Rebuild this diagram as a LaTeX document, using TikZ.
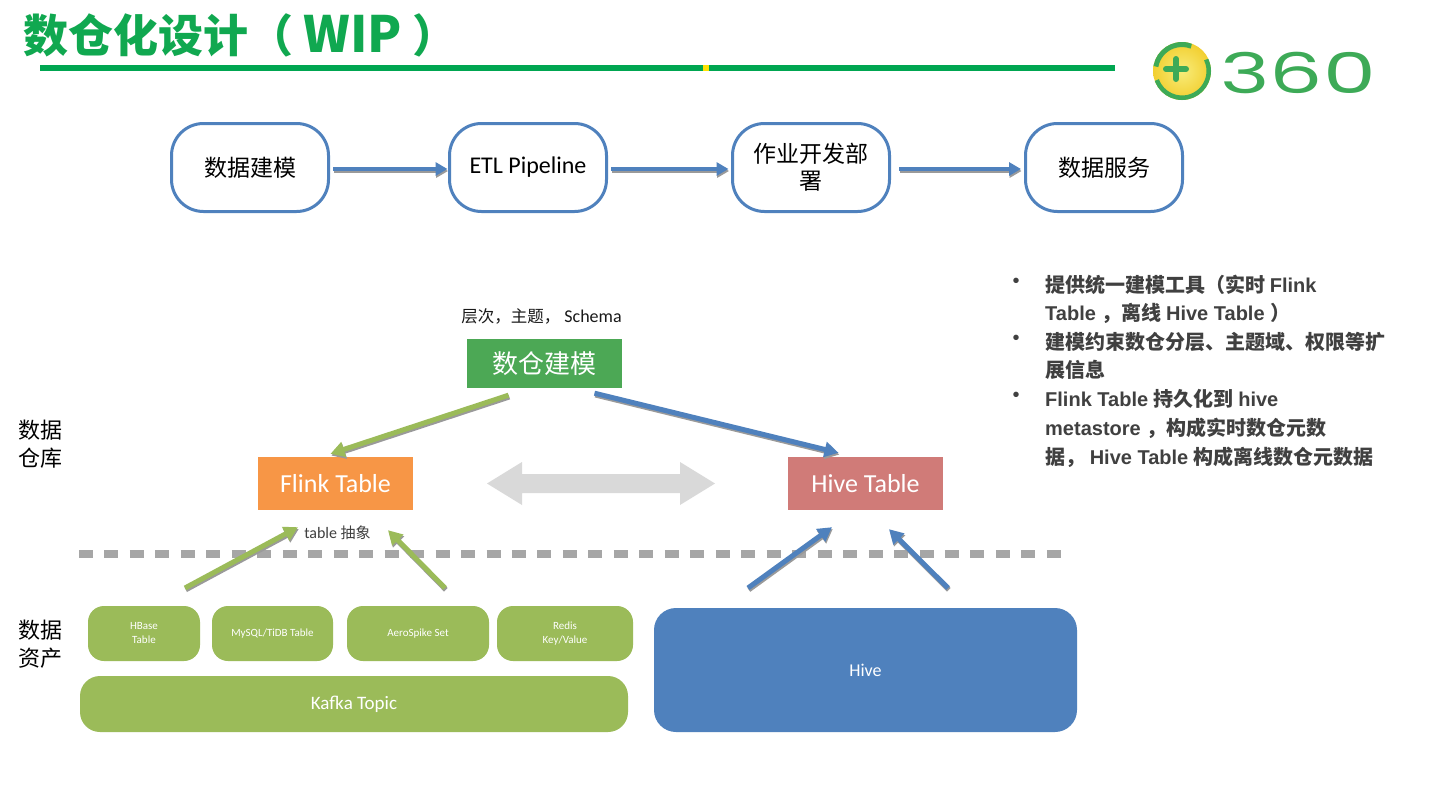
\documentclass[tikz,border=0pt]{standalone}
\usepackage{fontspec}
\setmainfont{Carlito}
\newfontfamily\cjk{Noto Sans CJK SC}
\newfontfamily\lsans{Liberation Sans}
\newfontfamily\popp{Poppins}
\usetikzlibrary{arrows.meta,calc}
\definecolor{boxblue}{HTML}{4F81BD}
\definecolor{ttlgreen}{HTML}{10A850}
\definecolor{linegreen}{HTML}{00A651}
\definecolor{modgreen}{HTML}{4CA855}
\definecolor{flinkor}{HTML}{F79646}
\definecolor{hivered}{HTML}{D07B78}
\definecolor{assetgreen}{HTML}{9BBB59}
\definecolor{shadowgray}{HTML}{9A9A9A}
\definecolor{dashgray}{HTML}{A6A6A6}
\definecolor{dblgray}{HTML}{D9D9D9}
\definecolor{txtgray}{HTML}{404040}
\definecolor{logogreen}{HTML}{3DAA57}
\definecolor{logoyellow}{HTML}{F2CF30}
\definecolor{logolight}{HTML}{F8EC7A}
\tikzset{
  topbox/.style={draw=boxblue, line width=3pt, rounded corners=32pt, fill=white,
    minimum width=157pt, minimum height=88pt, inner sep=0pt, align=center,
    font=\cjk\fontsize{23}{27}\selectfont},
  flowarrow/.style={line width=4pt, draw=boxblue, -{Triangle[length=12pt,width=13pt]},
    preaction={draw=shadowgray, line width=4pt, -{Triangle[length=12pt,width=13pt]},
      transform canvas={shift={(0.6pt,-2pt)}}}},
  greenarrow/.style={line width=5pt, draw=assetgreen, -{Triangle[length=14pt,width=15pt]},
    preaction={draw=shadowgray, line width=5pt, -{Triangle[length=14pt,width=15pt]},
      transform canvas={shift={(0.8pt,-1.8pt)}}}},
  bluearrow/.style={line width=5pt, draw=boxblue, -{Triangle[length=14pt,width=15pt]},
    preaction={draw=shadowgray, line width=5pt, -{Triangle[length=14pt,width=15pt]},
      transform canvas={shift={(0.8pt,-1.8pt)}}}},
  flatbox/.style={inner sep=0pt, text=white, font=\fontsize{26}{30}\selectfont},
  assetbox/.style={fill=assetgreen, rounded corners=16pt, inner sep=0pt,
    minimum height=55pt, text=white, align=center, font=\fontsize{11}{14}\selectfont},
  sidelabel/.style={align=center, font=\cjk\fontsize{22}{28}\selectfont},
  bullettext/.style={anchor=base west, inner sep=0pt, text=txtgray,
    font=\bfseries\fontsize{20}{24}\selectfont},
  bulletdot/.style={inner sep=0pt, text=txtgray, font=\lsans\fontsize{20}{20}\selectfont},
}
\begin{document}
\begin{tikzpicture}[x=1pt,y=-1pt]
\useasboundingbox[fill=white] (0,0) rectangle (1440,811);

% title and rule
\node[anchor=west, inner sep=0pt, text=ttlgreen, font=\cjk\bfseries\fontsize{45}{48}\selectfont] (title) at (23,35) {数仓化设计（ {\fontsize{50}{50}\selectfont WIP} ）};
\coordinate (ruleA) at (40,68);
\coordinate (ruleB) at (1115,68);
\draw[linegreen, line width=6pt] (ruleA) -- (ruleB);
\fill[yellow!85!orange] (703,65) rectangle (709,71);

% logo
\coordinate (logoc) at (1182,71);
\shade[inner color=logolight, outer color=logoyellow] (logoc) circle (29);
\begin{scope}
  \clip (logoc) circle (29);
  \draw[logogreen, line width=9pt] ($(logoc)+(160:29)$) arc (160:-25:29);
  \draw[logogreen, line width=10pt] ($(logoc)+(190:29)$) arc (190:290:29);
\end{scope}
\draw[logogreen, line width=6pt, line cap=round] ($(logoc)+(-16,-2)$) -- ($(logoc)+(4,-2)$);
\draw[logogreen, line width=6pt, line cap=round] ($(logoc)+(-6,-12)$) -- ($(logoc)+(-6,8)$);
\node[inner sep=0pt, text=logogreen, xscale=1.5, font=\popp\fontsize{56}{56}\selectfont] (logotext) at (1298,73) {360};

% top flow
\node[topbox] (b1) at (250,167.5) {数据建模};
\node[topbox, font=\fontsize{24}{28}\selectfont] (b2) at (528,167.5) {ETL Pipeline};
\node[topbox] (b3) at (811,167.5) {作业开发部\\署};
\node[topbox] (b4) at (1104,167.5) {数据服务};
\draw[flowarrow] ($(b1.east)+(3,1.5)$) -- ($(b2.west)+(-0.5,1.5)$);
\draw[flowarrow] ($(b2.east)+(3,1.5)$) -- ($(b3.west)+(-2.5,1.5)$);
\draw[flowarrow] ($(b3.east)+(8,1.5)$) -- ($(b4.west)+(-3,1.5)$);

% warehouse layer
\node[inner sep=0pt, text=black!90] (schema) at (541.5,316) {{\cjk\fontsize{16.5}{18}\selectfont 层次，主题，}\fontsize{18}{18}\selectfont\ Schema};
\node[flatbox, fill=modgreen, minimum width=155pt, minimum height=49pt, font=\cjk\fontsize{26}{30}\selectfont] (dcjm) at (544.5,363.5) {数仓建模};
\node[flatbox, fill=flinkor, minimum width=155pt, minimum height=53pt] (flink) at (335.5,483.5) {Flink Table};
\node[flatbox, fill=hivered, minimum width=155pt, minimum height=53pt] (hivet) at (865.5,483.5) {Hive Table};
\draw[greenarrow] ($(dcjm.south)+(-36,7)$) -- ($(flink.north)+(-5,-3)$);
\draw[bluearrow] ($(dcjm.south)+(50,5)$) -- ($(hivet.north)+(-27,-4)$);

% grey double arrow
\coordinate (dblL) at (487,483.5);
\coordinate (dblR) at (715,483.5);
\fill[dblgray] (dblL) -- ++(35,-21.5) -- ++(0,12) -- ($(dblR)+(-35,-9.5)$) -- ++(0,-12) -- (dblR)
  -- ++(-35,21.5) -- ++(0,-12) -- ($(dblL)+(35,9.5)$) -- ++(0,12) -- cycle;

\node[inner sep=0pt, text=txtgray] (tabs) at (337.5,533) {\fontsize{16}{18}\selectfont table {\cjk\fontsize{15}{18}\selectfont 抽象}};

% dashed separator
\coordinate (dashA) at (79,554);
\coordinate (dashB) at (1062,554);
\draw[dashgray, line width=8pt, dash pattern=on 14pt off 11.47pt] (dashA) -- (dashB);

% side labels
\node[sidelabel] (lblwh) at (41,444) {数据\\仓库};
\node[sidelabel] (lblas) at (41,644) {数据\\资产};

% assets
\node[assetbox, minimum width=112pt] (hbase) at (144,633.5) {HBase\\Table};
\node[assetbox, minimum width=121pt] (mysql) at (272.5,633.5) {MySQL/TiDB Table};
\node[assetbox, minimum width=142pt] (aero) at (418,633.5) {AeroSpike Set};
\node[assetbox, minimum width=136pt] (redis) at (565,633.5) {Redis\\Key/Value};
\node[assetbox, minimum width=548pt, minimum height=56pt, rounded corners=20pt, font=\fontsize{19}{22}\selectfont] (kafka) at (354,704) {Kafka Topic};
\node[assetbox, fill=boxblue, minimum width=423pt, minimum height=124pt, rounded corners=22pt, font=\fontsize{18}{22}\selectfont] (hive) at (865.5,670) {Hive};

% upward arrows
\coordinate (g1s) at (185,588);
\coordinate (g2s) at (445,588);
\coordinate (u1s) at (748,588);
\coordinate (u2s) at (948,588);
\draw[greenarrow] (g1s) -- ($(flink.south)+(-37.5,17)$);
\draw[greenarrow] (g2s) -- ($(flink.south)+(52.5,20)$);
\draw[bluearrow] (u1s) -- ($(hivet.south)+(-33.5,17)$);
\draw[bluearrow] (u2s) -- ($(hivet.south)+(23.5,19)$);

% bullets
\node[bulletdot] (d1) at (1016,283) {•};
\node[bulletdot] (d2) at (1016,340) {•};
\node[bulletdot] (d3) at (1016,397) {•};
\node[bullettext] (t1) at (1045,292) {\cjk 提供统一建模工具（实时 \lsans Flink};
\node[bullettext] (t2) at (1045,320) {\lsans Table \cjk ，离线 \lsans Hive Table \cjk ）};
\node[bullettext] (t3) at (1045,349) {\cjk 建模约束数仓分层、主题域、权限等扩};
\node[bullettext] (t4) at (1045,377) {\cjk 展信息};
\node[bullettext] (t5) at (1045,406) {\lsans Flink Table \cjk 持久化到 \lsans hive};
\node[bullettext] (t6) at (1045,435) {\lsans metastore \cjk ，构成实时数仓元数};
\node[bullettext] (t7) at (1045,464) {\cjk 据， \lsans Hive Table \cjk 构成离线数仓元数据};
\end{tikzpicture}
\end{document}
